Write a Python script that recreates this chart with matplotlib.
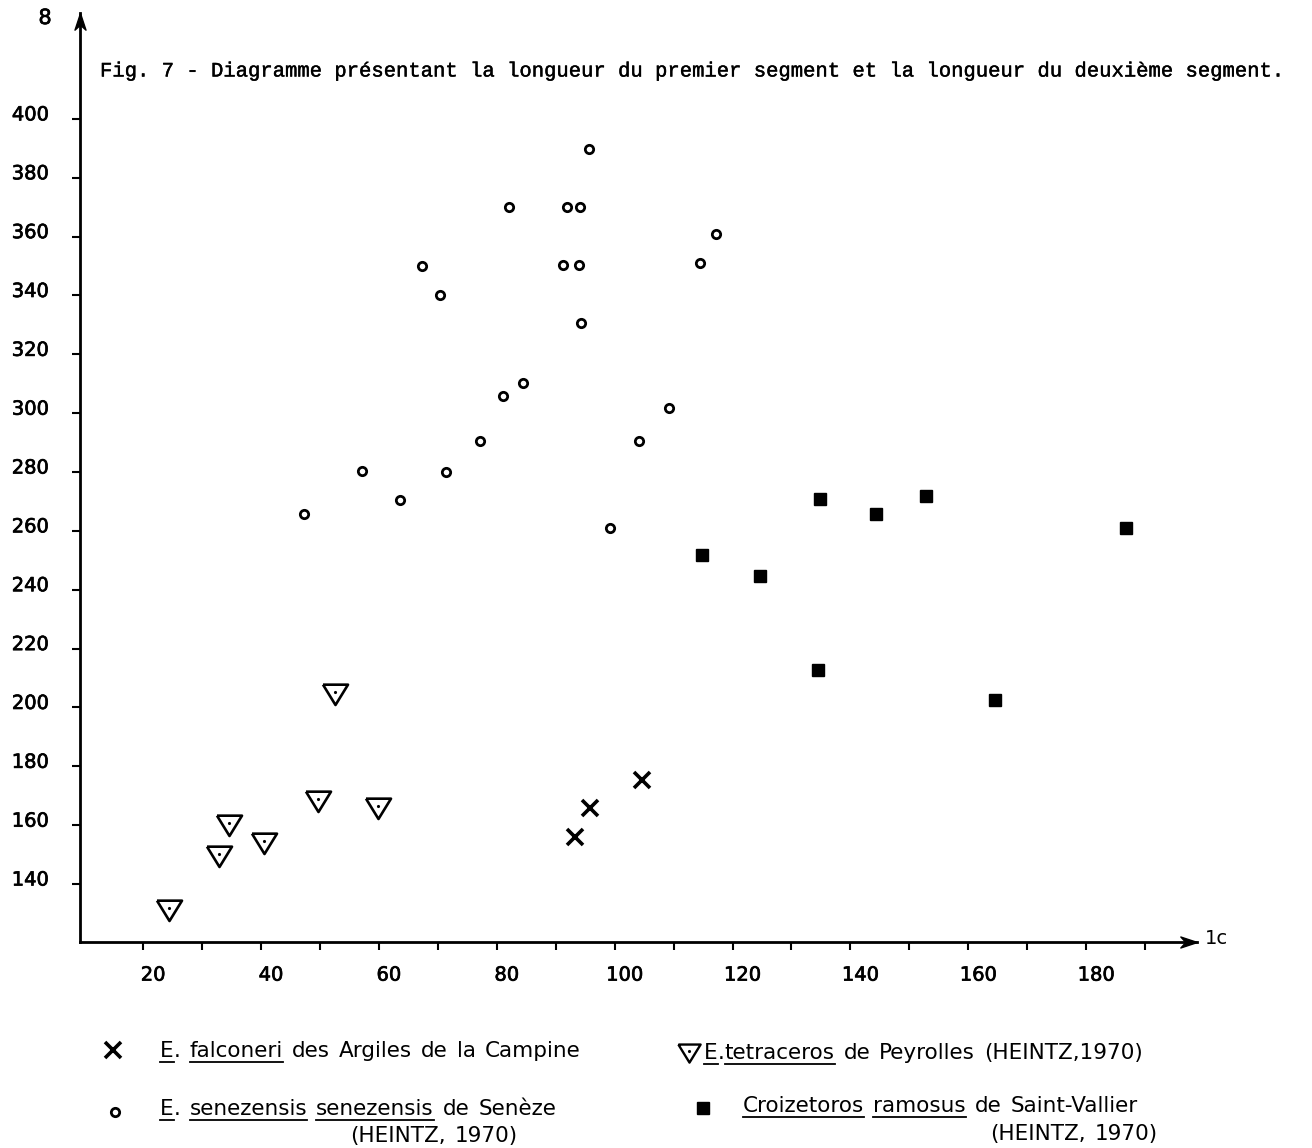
import numpy as np
import matplotlib
matplotlib.use("Agg")
import matplotlib.pyplot as plt
from matplotlib.lines import Line2D
from matplotlib.transforms import ScaledTranslation
import matplotlib.patheffects as pe

falc_x = [104.6, 95.8, 93.3]
falc_y = [175.3, 165.7, 155.9]

sen_x = [95.6, 82.0, 92.0, 94.1, 117.2, 67.4, 91.3, 94.0, 114.4, 70.3, 94.3,
         84.5, 81.1, 109.3, 77.1, 104.1, 57.2, 71.4, 63.6, 47.3, 99.2]
sen_y = [389.8, 370.2, 370.0, 370.0, 360.8, 350.1, 350.4, 350.4, 351.0, 340.0, 330.6,
         310.4, 305.7, 301.7, 290.7, 290.7, 280.5, 280.1, 270.4, 265.6, 260.9]

tet_x = [52.5, 49.6, 59.8, 34.5, 40.5, 32.9, 24.4]
tet_y = [205.2, 168.8, 166.5, 160.7, 154.5, 150.1, 131.7]

cro_x = [134.9, 152.8, 144.3, 186.8, 114.8, 124.6, 134.5, 164.6]
cro_y = [270.9, 272.0, 265.8, 261.0, 251.8, 244.7, 212.6, 202.4]

xticks = list(range(20, 200, 10))
xlabels = [str(v) if v % 20 == 0 and v < 190 else '' for v in xticks]
yticks = list(range(140, 420, 20))
ylabels = [str(v) for v in yticks]

titre = "Fig. 7 - Diagramme présentant la longueur du premier segment et la longueur du deuxième segment."
leg1 = "_E_. _falconeri_ des Argiles de la Campine"
leg2 = "_E_. _senezensis_ _senezensis_ de Senèze"
leg3 = "_E_._tetraceros_ de Peyrolles (HEINTZ,1970)"
leg4 = "_Croizetoros_ _ramosus_ de Saint-Vallier"
heintz = "(HEINTZ, 1970)"

W, H = 1312, 1148
fig = plt.figure(figsize=(W / 100, H / 100), dpi=100)
ax = fig.add_axes([80 / W, 1 - 942 / H, (1197 - 80) / W, (942 - 13) / H])
ax.set_xlim(9.3, 198.8)
ax.set_ylim(120.3, 436)

for s in ['top', 'right']:
    ax.spines[s].set_visible(False)
for s in ['left', 'bottom']:
    ax.spines[s].set_linewidth(2)

# fleches au bout des axes
fl_x = [(0, 0), (-1, 0.33), (-0.7, 0), (-1, -0.33), (0, 0)]
fl_y = [(0, 0), (0.33, -1), (0, -0.7), (-0.33, -1), (0, 0)]
ax.plot(1, 0, marker=fl_x, ms=24, color='k', transform=ax.transAxes, clip_on=False)
ax.plot(0, 1, marker=fl_y, ms=24, color='k', transform=ax.transAxes, clip_on=False)

gras = [pe.withStroke(linewidth=0.5, foreground='k')]

ax.set_xticks(xticks)
ax.set_xticklabels(xlabels)
ax.set_yticks(yticks)
ax.set_yticklabels(ylabels)
ax.tick_params(axis='x', direction='out', length=6, width=1.5, pad=11, labelsize=14)
ax.tick_params(axis='y', direction='out', length=6, width=1.5, pad=16.5, labelsize=14)
for lab in ax.get_xticklabels():
    lab.set_transform(lab.get_transform() + ScaledTranslation(0.10, 0, fig.dpi_scale_trans))
    lab.set_path_effects(gras)
for lab in ax.get_yticklabels():
    lab.set_transform(lab.get_transform() + ScaledTranslation(0, 0.06, fig.dpi_scale_trans))
    lab.set_path_effects(gras)

tri = [(-1.15, 0.72), (1.15, 0.72), (0, -1.15), (-1.15, 0.72)]

ax.plot(falc_x, falc_y, ls='none', marker='x', ms=11, mew=2.6, color='k')
ax.plot(sen_x, sen_y, ls='none', marker='o', ms=6, mew=2, mfc='white', mec='k')
ax.plot(tet_x, tet_y, ls='none', marker=tri, ms=18, mew=1.9, mfc='white', mec='k')
ax.plot(tet_x, tet_y, ls='none', marker='.', ms=2.5, color='k')
ax.plot(cro_x, cro_y, ls='none', marker='s', ms=8, color='k')

fig.text(45 / W, 1 - 18 / H, '8', ha='center', va='center', fontsize=15, path_effects=gras)
fig.text(1205 / W, 1 - 938 / H, '1c', ha='left', va='center', fontsize=14)
fig.text(100 / W, 1 - 71 / H, titre, family='Liberation Mono', fontsize=14.8,
         ha='left', va='center',
         path_effects=[pe.withStroke(linewidth=0.3, foreground='k')])

r = fig.canvas.get_renderer()


def texte_souligne(x, y, chaine, taille=15.5, ecart=9):
    # x, y en pixels depuis le coin haut gauche, y = ligne de base
    for mot in chaine.split(' '):
        for i, morceau in enumerate(mot.split('_')):
            if morceau == '':
                continue
            t = fig.text(x / W, 1 - y / H, morceau, fontsize=taille, ha='left', va='baseline')
            bb = t.get_window_extent(r)
            if i % 2 == 1:
                yl = (H - y - 5) / H
                fig.add_artist(Line2D([bb.x0 / W, bb.x1 / W], [yl, yl], lw=1.3, color='k',
                                      transform=fig.transFigure))
            x = bb.x1
        x += ecart


def symbole(x, y, **kw):
    fig.add_artist(Line2D([x / W], [1 - y / H], ls='none', color='k',
                          transform=fig.transFigure, **kw))


symbole(113, 1050, marker='x', ms=11, mew=2.6)
texte_souligne(160, 1057, leg1)
symbole(115, 1112, marker='o', ms=6, mew=2, mfc='white', mec='k')
texte_souligne(160, 1115, leg2)
texte_souligne(350, 1142, heintz)

symbole(689, 1051, marker=tri, ms=16, mew=1.7, mfc='white', mec='k')
symbole(689, 1051, marker='.', ms=2.5)
texte_souligne(704, 1059, leg3)
symbole(703, 1108, marker='s', ms=8)
texte_souligne(743, 1112, leg4)
texte_souligne(990, 1140, heintz)

fig.savefig('out.png', dpi=100, facecolor='white')
